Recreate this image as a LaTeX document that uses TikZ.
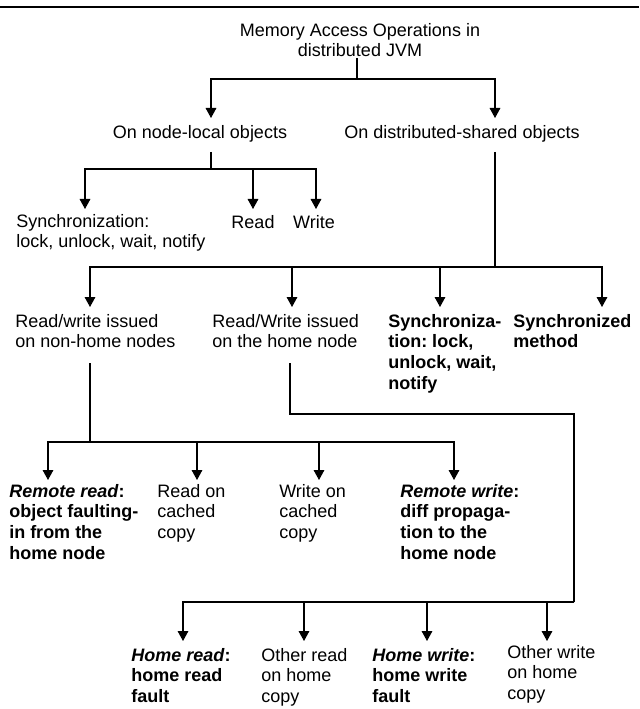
\documentclass[tikz,border=0pt]{standalone}
\usepackage{fontspec}
\setmainfont{Liberation Sans}
\usetikzlibrary{arrows.meta}
\frenchspacing
\begin{document}
\begin{tikzpicture}[x=0.75pt,y=-0.75pt,
  lbl/.style={inner sep=0pt, font=\fontsize{13.5}{15.5}\selectfont, align=left, anchor=north west, execute at begin node=\strut},
  clbl/.style={lbl, align=center, anchor=north},
  bl/.style={lbl, font=\fontsize{13.5}{15.5}\selectfont\bfseries},
  conn/.style={line width=0.8pt},
  arr/.style={conn, -{Triangle[width=8pt,length=7.5pt]}}
]
\useasboundingbox (0,0) rectangle (639,709);
\coordinate (rl) at (0,7);
\coordinate (rr) at (639,7);
\draw[line width=1.8pt] (rl) -- (rr);

% texts
\node[clbl] (title) at (360,23) {Memory Access Operations in\\distributed JVM};
\node[clbl] (local) at (200,124) {On node-local objects};
\node[clbl] (shared) at (462,124) {On distributed-shared objects};

\node[lbl] (syncl) at (16,214) {Synchronization:\\lock, unlock, wait, notify};
\node[clbl] (readl) at (253,214) {Read};
\node[clbl] (writel) at (314,214) {Write};

\node[lbl] (nonhome) at (15,314) {Read/write issued\\on non-home nodes};
\node[lbl] (homenode) at (212,314) {Read/Write issued\\on the home node};
\node[bl] (syncs) at (388,314) {Synchroniza-\\tion: lock,\\unlock, wait,\\notify};
\node[bl] (syncm) at (513,314) {Synchronized\\method};

\node[bl] (rread) at (9,484) {\textit{Remote read}:\\object faulting-\\in from the\\home node};
\node[lbl] (rcache) at (157,484) {Read on\\cached\\copy};
\node[lbl] (wcache) at (279,484) {Write on\\cached\\copy};
\node[bl] (rwrite) at (400,484) {\textit{Remote write}:\\diff propaga-\\tion to the\\home node};

\node[bl] (hread) at (131,648) {\textit{Home read}:\\home read\\fault};
\node[lbl] (oread) at (261,648) {Other read\\on home\\copy};
\node[bl] (hwrite) at (372,648) {\textit{Home write}:\\home write\\fault};
\node[lbl] (owrite) at (507,645) {Other write\\on home\\copy};

% level 0 -> 1
\coordinate (s0) at (357,58);
\coordinate (j0) at (357,79);
\coordinate (a01) at (211,118);
\coordinate (a02) at (495,118);
\draw[conn] (s0) -- (j0);
\draw[arr] (j0) -| (a01);
\draw[arr] (j0) -| (a02);

% node-local branch
\coordinate (s1) at (211,152);
\coordinate (j1) at (211,169);
\coordinate (a11) at (85,209);
\coordinate (a12) at (253,209);
\coordinate (a13) at (316,209);
\draw[conn] (s1) -- (j1);
\draw[arr] (j1) -| (a11);
\draw[arr] (j1) -| (a12);
\draw[arr] (j1) -| (a13);

% shared branch
\coordinate (s2) at (495,152);
\coordinate (j2) at (495,267);
\coordinate (a21) at (90,307);
\coordinate (a22) at (292,307);
\coordinate (a23) at (440,307);
\coordinate (a24) at (602,307);
\draw[conn] (s2) -- (j2);
\draw[arr] (j2) -| (a21);
\draw[arr] (j2) -| (a22);
\draw[arr] (j2) -| (a23);
\draw[arr] (j2) -| (a24);

% non-home branch
\coordinate (s3) at (90,363);
\coordinate (j3) at (90,442);
\coordinate (a31) at (48,480);
\coordinate (a32) at (197,480);
\coordinate (a33) at (319,480);
\coordinate (a34) at (454,480);
\draw[conn] (s3) -- (j3);
\draw[arr] (j3) -| (a31);
\draw[arr] (j3) -| (a32);
\draw[arr] (j3) -| (a33);
\draw[arr] (j3) -| (a34);

% home-node branch
\coordinate (s4) at (290,363);
\coordinate (c4) at (574,414);
\coordinate (j4) at (574,602);
\coordinate (a41) at (183,641);
\coordinate (a42) at (304,641);
\coordinate (a43) at (427,641);
\coordinate (a44) at (547,641);
\draw[conn] (s4) |- (c4) -- (j4);
\draw[arr] (j4) -| (a41);
\draw[arr] (j4) -| (a42);
\draw[arr] (j4) -| (a43);
\draw[arr] (j4) -| (a44);
\end{tikzpicture}
\end{document}
